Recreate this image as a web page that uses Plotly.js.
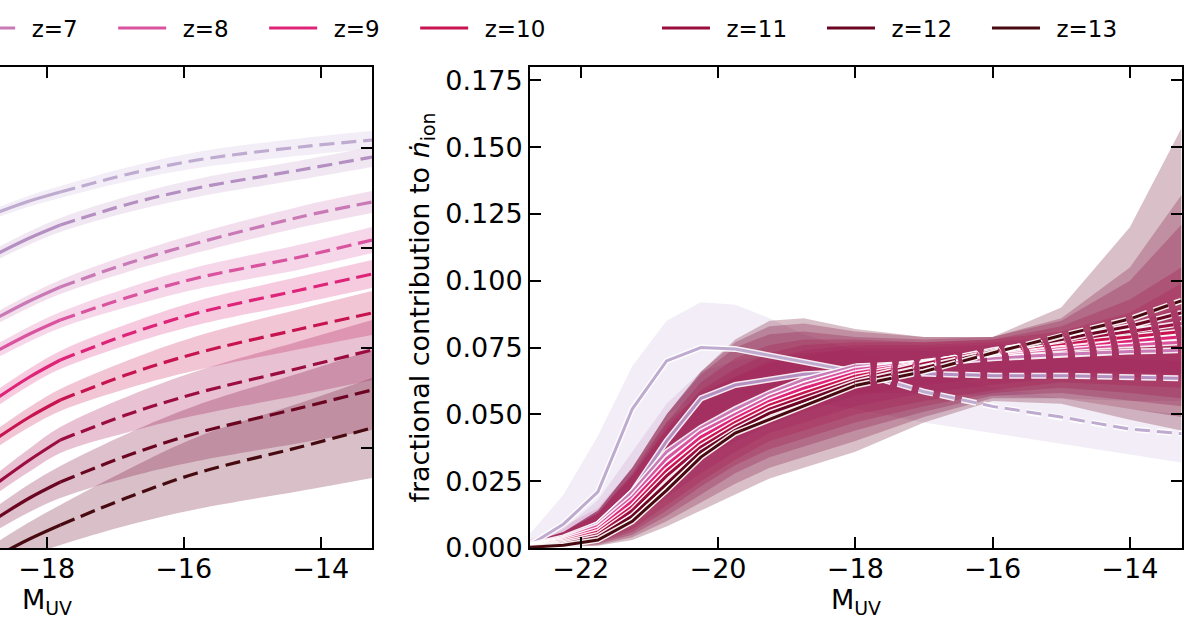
<!DOCTYPE html>
<html>
<head>
<meta charset="utf-8">
<script src="https://cdn.plot.ly/plotly-3.0.1.min.js"></script>
<style>
  html, body { margin: 0; padding: 0; overflow: hidden; background: white; }
  /* the figure is wider than the window: its left edge is cropped off, as in the source */
  #chart { position: absolute; left: -400px; top: 0; width: 1600px; height: 630px; }
</style>
</head>
<body>
<div id="chart"></div>
<script>
const redshifts = [5, 6, 7, 8, 9, 10, 11, 12, 13];
const lineColors = ['#bfaad0', '#b48fc2', '#c979b6', '#d9539f', '#de2478', '#c7134f', '#9c0d3f', '#6a0622', '#470a10'];
const bandColors = ['#cbb8dc', '#c9a0cc', '#d07ab8', '#dc5aa6', '#e0307f', '#cc1656', '#a3084a', '#7a0032', '#67001f'];

// left panel: cumulative ionising emissivity (log), one row per redshift
const muvLeft = [-18.7, -18.25, -17.8, -16.8, -15.8, -14.3, -13.25];
const leftMid = [
  [50.18, 50.235, 50.28, 50.37, 50.44, 50.505, 50.54],
  [49.975, 50.05, 50.115, 50.22, 50.30, 50.39, 50.455],
  [49.655, 49.735, 49.805, 49.925, 50.025, 50.155, 50.23],
  [49.49, 49.57, 49.64, 49.755, 49.85, 49.955, 50.04],
  [49.255, 49.355, 49.44, 49.57, 49.675, 49.79, 49.87],
  [49.055, 49.155, 49.24, 49.37, 49.475, 49.595, 49.675],
  [48.83, 48.94, 49.04, 49.17, 49.275, 49.40, 49.49],
  [48.655, 48.75, 48.83, 48.965, 49.075, 49.20, 49.29],
  [48.465, 48.545, 48.615, 48.755, 48.875, 49.005, 49.10]
];
const leftErr = [
  [0.025, 0.028, 0.03, 0.035, 0.04, 0.043, 0.045],
  [0.03, 0.032, 0.035, 0.04, 0.045, 0.048, 0.05],
  [0.03, 0.032, 0.035, 0.042, 0.048, 0.053, 0.055],
  [0.035, 0.038, 0.04, 0.048, 0.055, 0.062, 0.065],
  [0.04, 0.042, 0.045, 0.052, 0.06, 0.067, 0.07],
  [0.045, 0.05, 0.055, 0.07, 0.085, 0.1, 0.11],
  [0.05, 0.058, 0.065, 0.09, 0.11, 0.135, 0.15],
  [0.06, 0.07, 0.08, 0.11, 0.14, 0.175, 0.2],
  [0.07, 0.085, 0.1, 0.14, 0.18, 0.22, 0.25]
];
const leftSplit = 2; // solid up to -17.8, dashed beyond

// right panel: fractional contribution to n_ion
const muvRight = [-22.75, -22.25, -21.75, -21.25, -20.75, -20.25, -19.75, -19.25, -18.75, -18, -17, -16, -15, -14, -13.25];
const rightMid = [
  [0.001, 0.009, 0.021, 0.052, 0.070, 0.075, 0.0745, 0.072, 0.0695, 0.066, 0.0585, 0.053, 0.049, 0.0445, 0.0428],
  [0.0005, 0.003, 0.009, 0.021, 0.040, 0.056, 0.061, 0.063, 0.065, 0.066, 0.0652, 0.0645, 0.0645, 0.064, 0.0635],
  [0.001, 0.004, 0.009, 0.021, 0.036, 0.045, 0.052, 0.058, 0.063, 0.068, 0.069, 0.071, 0.0725, 0.0735, 0.074],
  [0.0008, 0.0035, 0.0082, 0.019, 0.0335, 0.0435, 0.050, 0.0565, 0.0612, 0.0668, 0.0695, 0.0725, 0.0745, 0.076, 0.077],
  [0.0007, 0.003, 0.007, 0.0175, 0.031, 0.0415, 0.0485, 0.055, 0.0598, 0.0655, 0.0695, 0.073, 0.0755, 0.0775, 0.079],
  [0.0006, 0.0025, 0.006, 0.0155, 0.029, 0.0395, 0.047, 0.0535, 0.058, 0.0643, 0.0692, 0.0735, 0.0765, 0.079, 0.081],
  [0.0005, 0.002, 0.005, 0.014, 0.027, 0.0378, 0.0455, 0.052, 0.0565, 0.063, 0.069, 0.074, 0.0775, 0.081, 0.084],
  [0.0004, 0.0015, 0.004, 0.012, 0.024, 0.036, 0.044, 0.0505, 0.055, 0.062, 0.0675, 0.0735, 0.078, 0.083, 0.088],
  [0.0003, 0.001, 0.003, 0.010, 0.0216, 0.034, 0.043, 0.048, 0.053, 0.0608, 0.066, 0.073, 0.0795, 0.0857, 0.0925]
];
const rightLo = [
  [0, 0.002, 0.008, 0.03, 0.05, 0.057, 0.058, 0.057, 0.055, 0.052, 0.047, 0.043, 0.039, 0.035, 0.032],
  [0, 0.0005, 0.003, 0.01, 0.025, 0.042, 0.05, 0.054, 0.056, 0.058, 0.058, 0.057, 0.056, 0.055, 0.055],
  [0, 0.001, 0.004, 0.012, 0.024, 0.033, 0.04, 0.046, 0.051, 0.057, 0.061, 0.064, 0.066, 0.066, 0.065],
  [0, 0.0008, 0.003, 0.009, 0.019, 0.028, 0.036, 0.043, 0.047, 0.053, 0.058, 0.061, 0.064, 0.064, 0.063],
  [0, 0.0007, 0.0025, 0.007, 0.016, 0.025, 0.033, 0.04, 0.044, 0.05, 0.055, 0.059, 0.062, 0.061, 0.06],
  [0, 0.0006, 0.002, 0.006, 0.014, 0.023, 0.031, 0.037, 0.041, 0.047, 0.053, 0.058, 0.06, 0.058, 0.056],
  [0, 0.0005, 0.0015, 0.005, 0.012, 0.02, 0.028, 0.034, 0.038, 0.044, 0.051, 0.057, 0.058, 0.055, 0.053],
  [0, 0.0004, 0.001, 0.004, 0.01, 0.017, 0.024, 0.03, 0.034, 0.04, 0.049, 0.056, 0.056, 0.052, 0.049],
  [0, 0.0003, 0.0008, 0.003, 0.008, 0.014, 0.02, 0.026, 0.03, 0.036, 0.047, 0.055, 0.054, 0.048, 0.044]
];
const rightHi = [
  [0.005, 0.02, 0.042, 0.068, 0.085, 0.092, 0.091, 0.086, 0.08, 0.074, 0.066, 0.06, 0.056, 0.052, 0.05],
  [0.0015, 0.007, 0.018, 0.036, 0.054, 0.066, 0.07, 0.072, 0.073, 0.074, 0.074, 0.073, 0.072, 0.071, 0.07],
  [0.003, 0.008, 0.015, 0.03, 0.047, 0.058, 0.064, 0.069, 0.072, 0.075, 0.075, 0.076, 0.077, 0.08, 0.085],
  [0.002, 0.006, 0.013, 0.027, 0.044, 0.057, 0.064, 0.07, 0.074, 0.076, 0.076, 0.077, 0.079, 0.084, 0.09],
  [0.002, 0.006, 0.013, 0.027, 0.045, 0.059, 0.067, 0.073, 0.076, 0.077, 0.077, 0.078, 0.081, 0.088, 0.099],
  [0.002, 0.006, 0.013, 0.028, 0.047, 0.062, 0.071, 0.076, 0.078, 0.078, 0.077, 0.078, 0.083, 0.093, 0.105],
  [0.002, 0.006, 0.014, 0.03, 0.05, 0.065, 0.075, 0.08, 0.081, 0.079, 0.078, 0.079, 0.085, 0.1, 0.121],
  [0.002, 0.006, 0.014, 0.03, 0.05, 0.066, 0.077, 0.083, 0.084, 0.081, 0.079, 0.079, 0.086, 0.105, 0.132],
  [0.002, 0.006, 0.014, 0.03, 0.05, 0.066, 0.078, 0.085, 0.086, 0.082, 0.079, 0.079, 0.09, 0.12, 0.157]
];
const rightSplit = 9; // solid up to -18, dashed beyond

const FONT = 'DejaVu Sans';
const DASH = '15px,7px';

function rgba(hex, a) {
  const n = parseInt(hex.slice(1), 16);
  return `rgba(${(n >> 16) & 255},${(n >> 8) & 255},${n & 255},${a})`;
}

const traces = [];

function addBand(xa, ya, x, lo, hi, color, shape) {
  traces.push({x: x, y: lo, xaxis: xa, yaxis: ya, mode: 'lines', line: {width: 0, shape: shape},
    hoverinfo: 'skip', showlegend: false});
  traces.push({x: x, y: hi, xaxis: xa, yaxis: ya, mode: 'lines', line: {width: 0, shape: shape},
    fill: 'tonexty', fillcolor: rgba(color, 0.25), hoverinfo: 'skip', showlegend: false});
}

function addLine(xa, ya, x, y, color, dash, shape, width, outline, legendOpts) {
  if (outline) {
    traces.push({x: x, y: y, xaxis: xa, yaxis: ya, mode: 'lines',
      line: {color: 'rgba(255,255,255,0.9)', width: width + 3, dash: dash, shape: shape},
      hoverinfo: 'skip', showlegend: false});
  }
  const t = {x: x, y: y, xaxis: xa, yaxis: ya, mode: 'lines',
    line: {color: color, width: width, dash: dash, shape: shape}, showlegend: false};
  if (legendOpts) Object.assign(t, legendOpts);
  traces.push(t);
}

// shaded ranges first, lines on top
redshifts.forEach((z, i) => {
  const lo = leftMid[i].map((v, k) => v - leftErr[i][k]);
  const hi = leftMid[i].map((v, k) => v + leftErr[i][k]);
  addBand('x', 'y', muvLeft, lo, hi, bandColors[i], 'spline');
});
redshifts.forEach((z, i) => {
  addBand('x2', 'y2', muvRight, rightLo[i], rightHi[i], bandColors[i], 'linear');
});

redshifts.forEach((z, i) => {
  addLine('x', 'y', muvLeft.slice(0, leftSplit + 1), leftMid[i].slice(0, leftSplit + 1),
    lineColors[i], 'solid', 'spline', 3.2, false);
  addLine('x', 'y', muvLeft.slice(leftSplit), leftMid[i].slice(leftSplit),
    lineColors[i], DASH, 'spline', 3.2, false);
});

redshifts.forEach((z, i) => {
  let legendOpts = null;
  if (z >= 7) {
    // en space keeps the wider gap between sample line and label
    legendOpts = {name: '\u2002z=' + z, showlegend: true, legend: z <= 10 ? 'legend' : 'legend2'};
  }
  addLine('x2', 'y2', muvRight.slice(0, rightSplit + 1), rightMid[i].slice(0, rightSplit + 1),
    lineColors[i], 'solid', 'linear', 3, true, legendOpts);
  addLine('x2', 'y2', muvRight.slice(rightSplit), rightMid[i].slice(rightSplit),
    lineColors[i], DASH, 'linear', 3, true);
});

const axisBase = {
  showline: true, linecolor: 'black', linewidth: 2,
  ticks: 'inside', ticklen: 11, tickwidth: 2, tickcolor: 'black',
  mirror: 'ticks', showgrid: false, zeroline: false,
  tickfont: {family: FONT, size: 27, color: 'black'}
};
const legendBase = {
  orientation: 'h', xanchor: 'left', y: 1.081, yanchor: 'middle',
  font: {family: FONT, size: 23, color: 'black'},
  itemwidth: 48, entrywidthmode: 'pixels', bgcolor: 'rgba(0,0,0,0)', traceorder: 'normal'
};

const layout = {
  width: 1600, height: 630,
  margin: {l: 122, r: 18, t: 67, b: 82, autoexpand: false},
  paper_bgcolor: 'white', plot_bgcolor: 'white',
  font: {family: FONT, size: 27, color: 'black'},
  xaxis: Object.assign({}, axisBase, {
    domain: [0, 650 / 1460], anchor: 'y', range: [-22.74, -13.25],
    tickvals: [-18, -16, -14], ticklabelstandoff: -4,
    title: {text: 'M<sub>UV</sub>', standoff: 4, font: {family: FONT, size: 27}}
  }),
  yaxis: Object.assign({}, axisBase, {
    anchor: 'x', range: [48.5, 50.905], tick0: 48.5, dtick: 0.5, showticklabels: false
  }),
  xaxis2: Object.assign({}, axisBase, {
    domain: [808 / 1460, 1], anchor: 'y2', range: [-22.74, -13.24],
    tickvals: [-22, -20, -18, -16, -14], ticklabelstandoff: -4,
    title: {text: 'M<sub>UV</sub>', standoff: 4, font: {family: FONT, size: 27}}
  }),
  yaxis2: Object.assign({}, axisBase, {
    anchor: 'x2', range: [0, 0.18], tick0: 0, dtick: 0.025, tickformat: '.3f',
    title: {text: 'fractional contribution to <i>ṅ</i><sub>ion</sub>', standoff: 8,
      font: {family: FONT, size: 27}}
  }),
  legend: Object.assign({}, legendBase, {x: 0.1645, entrywidth: 88}),
  legend2: Object.assign({}, legendBase, {x: 0.6404, entrywidth: 102})
};

Plotly.newPlot('chart', traces, layout, {staticPlot: true, displayModeBar: false});
</script>
</body>
</html>
